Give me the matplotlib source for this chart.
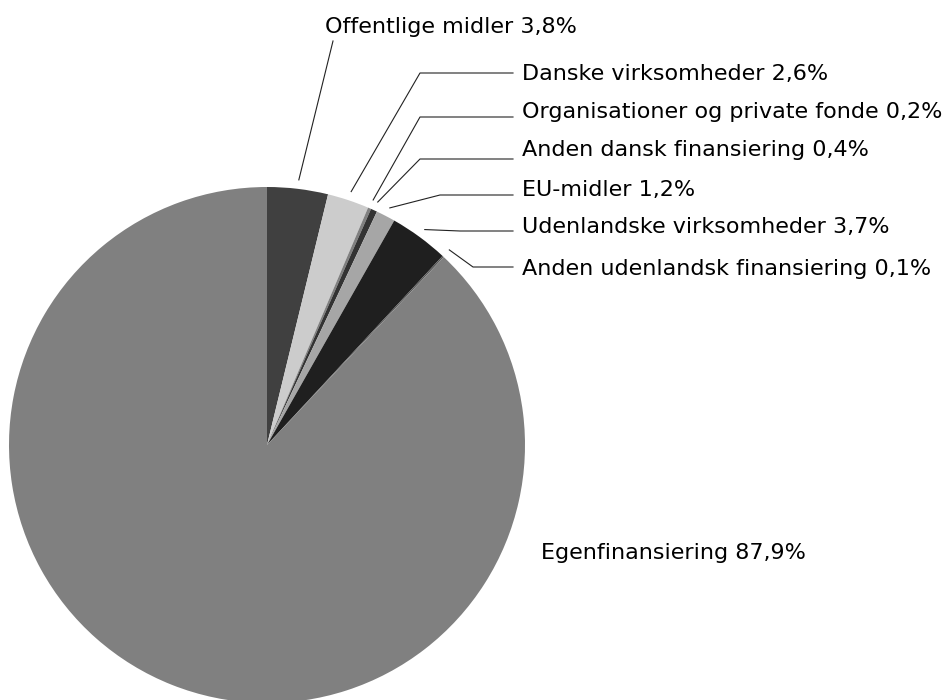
#======================================================================
# Finansiering af forskning - lagkage med etiketter
#======================================================================
import numpy as np
import matplotlib
matplotlib.use("Agg")
import matplotlib.pyplot as plt

#--------------------------------------------------------------------------
#                    Data
#--------------------------------------------------------------------------
labels = ["Offentlige midler", "Danske virksomheder",
          "Organisationer og private fonde", "Anden dansk finansiering",
          "EU-midler", "Udenlandske virksomheder",
          "Anden udenlandsk finansiering", "Egenfinansiering"]
shares = [3.8, 2.6, 0.2, 0.4, 1.2, 3.7, 0.1, 87.9]
colors = ["#404040", "#cccccc", "#808080", "#333333",
          "#a6a6a6", "#1f1f1f", "#595959", "#808080"]

#--------------------------------------------------------------------------
#                    Layout (pixels, measured from top)
#--------------------------------------------------------------------------
W, H = 947, 700
cx, cy, R = 267, 445, 258
text_x = [325, 522, 522, 522, 522, 522, 522, 541]
text_base = [33, 80, 118, 156, 196, 233, 275, 559]
line_y = [None, 73, 117, 159, 195, 231, 267, None]
elbow_x = [None, 420, 420, 420, 440, 460, 473, None]
line_end = 513

fig = plt.figure(figsize=(W / 100, H / 100), dpi=100)
ax = fig.add_axes([0, 0, 1, 1])

wedges, _ = ax.pie(shares, colors=colors, startangle=90, counterclock=False,
                   radius=R, center=(cx, H - cy),
                   wedgeprops=dict(linewidth=0))

ax.set_xlim(0, W)
ax.set_ylim(0, H)
ax.set_aspect("equal")
ax.axis("off")

#--------------------------------------------------------------------------
#               Labels and leader lines
#--------------------------------------------------------------------------
for i, w in enumerate(wedges):
    txt = "%s %s%%" % (labels[i], ("%.1f" % shares[i]).replace(".", ","))
    ax.text(text_x[i], H - text_base[i], txt, fontsize=16,
            family="DejaVu Sans", color="black", ha="left", va="baseline")
    if i == len(wedges) - 1:
        continue
    mid = np.deg2rad((w.theta1 + w.theta2) / 2)
    ax_pt = (cx + R * 1.035 * np.cos(mid), H - cy + R * 1.035 * np.sin(mid))
    if line_y[i] is None:
        ax.plot([ax_pt[0], 333], [ax_pt[1], H - 41], color="#222222", lw=0.8)
    else:
        ax.plot([ax_pt[0], elbow_x[i], line_end],
                [ax_pt[1], H - line_y[i], H - line_y[i]],
                color="#222222", lw=0.8)

fig.savefig("out.png", dpi=100)
